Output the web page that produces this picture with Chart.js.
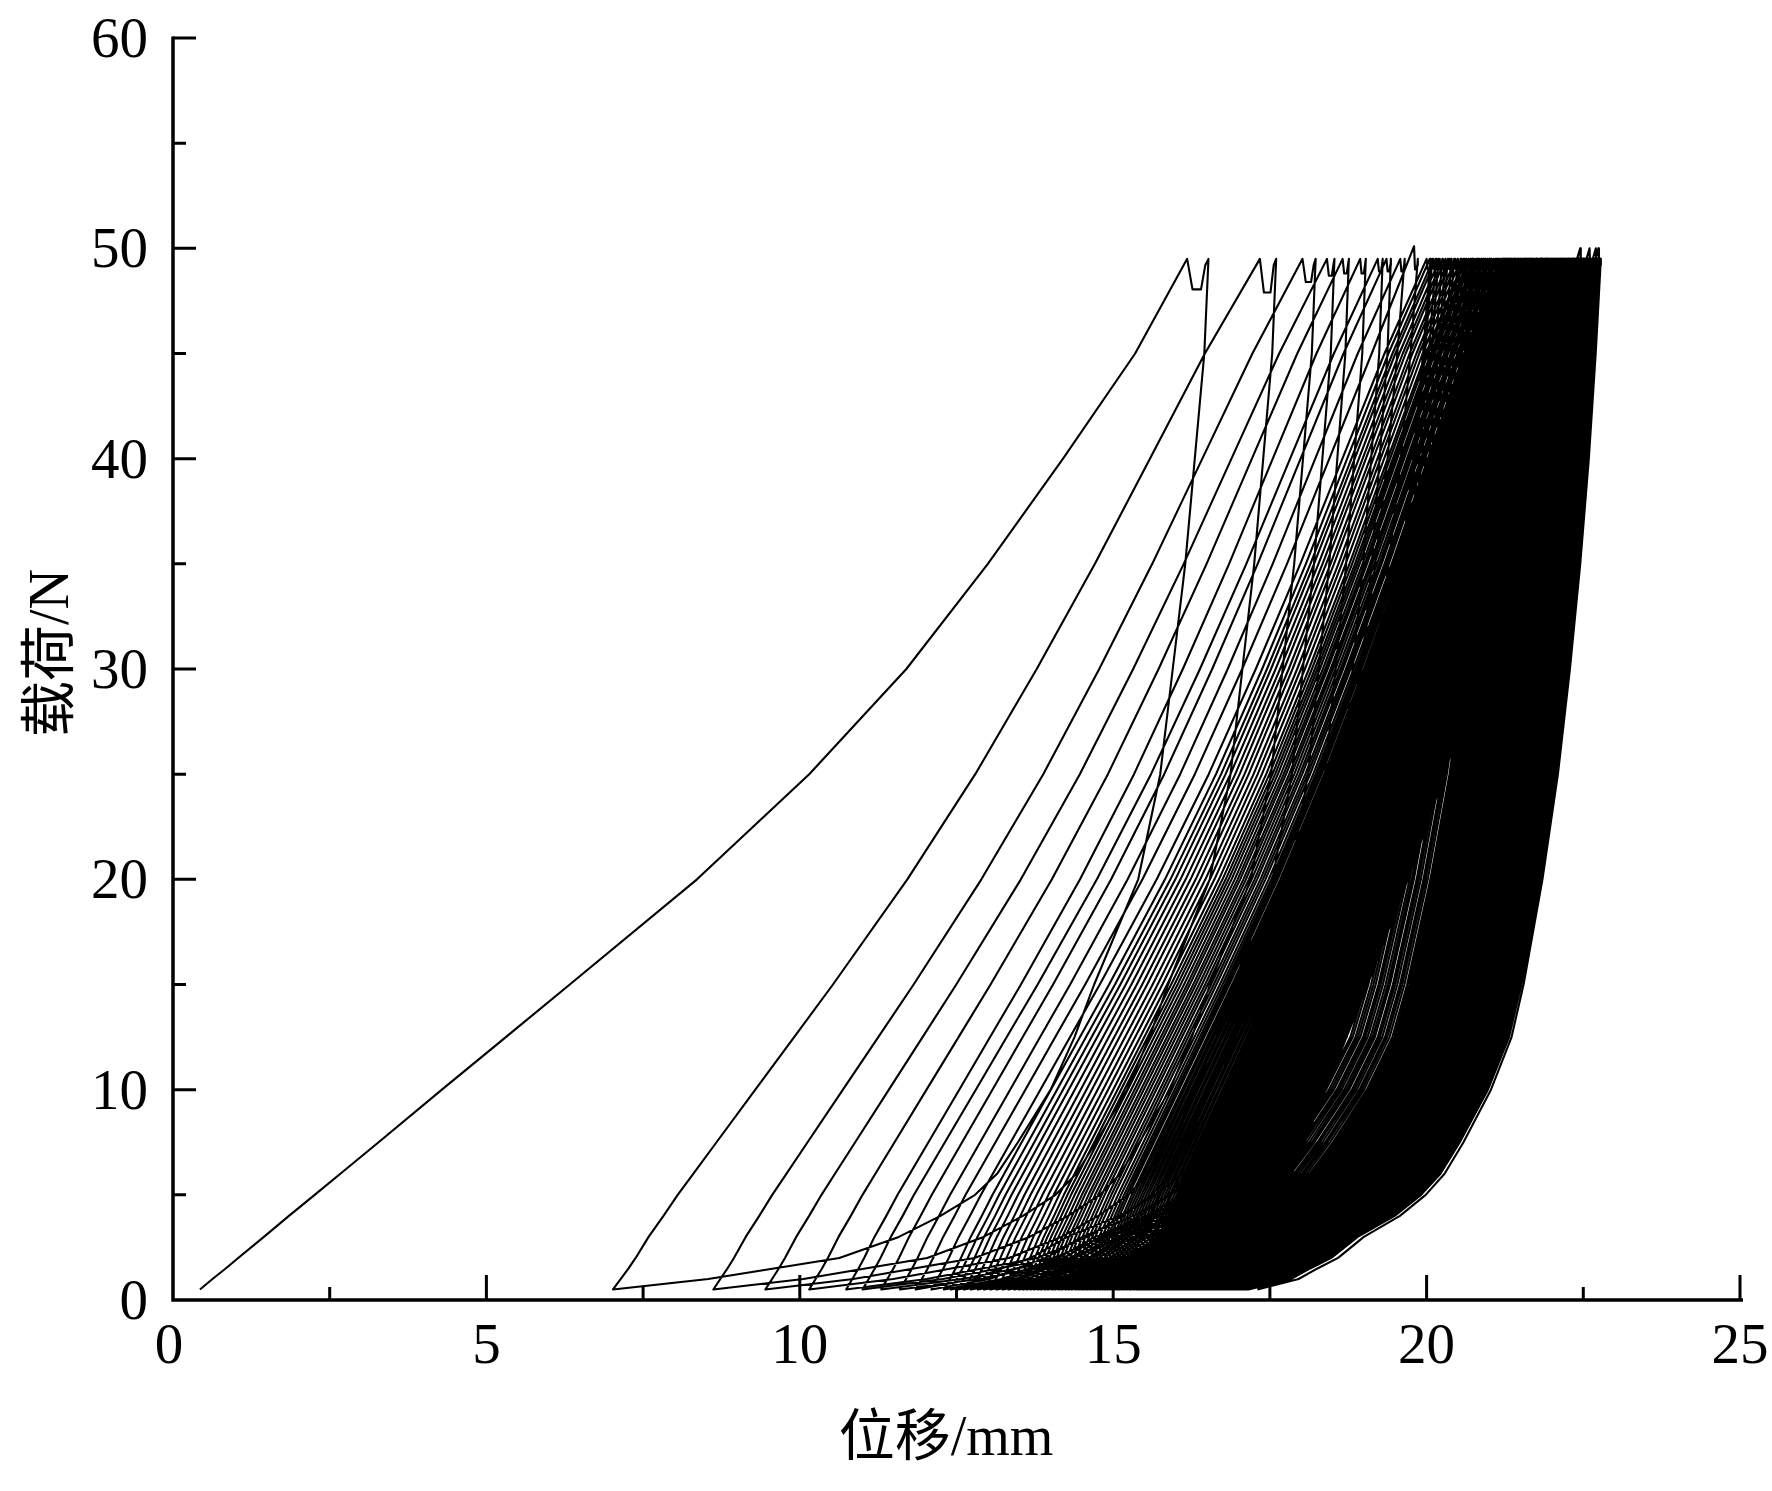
<!DOCTYPE html>
<html>
<head>
<meta charset="utf-8">
<script src="https://cdn.jsdelivr.net/npm/chart.js@4/dist/chart.umd.min.js"></script>
<style>
  html, body { margin: 0; padding: 0; background: #fff; }
  #canvas_div { width: 1772px; height: 1491px; }
</style>
</head>
<body>
<div id="canvas_div"><canvas id="myChart" width="1772" height="1491"></canvas></div>
<script>
const loadLevels = [0.5, 1, 1.5, 2, 3, 4, 5, 6, 7.5, 10, 12.5, 15, 20, 25, 30, 35, 40, 45, 49.5];

// first loading branch, displacement (mm) at each load level
const firstLoadX = [0.43, 0.63, 0.84, 1.04, 1.45, 1.85, 2.26, 2.67, 3.28, 4.29, 5.31, 6.33, 8.36, 10.15, 11.7, 13.0, 14.2, 15.35, 16.18];

// shape of later loading branches: share of the start->peak span at each load level
const loadShape = [0, 0.012, 0.024, 0.035, 0.055, 0.078, 0.1, 0.124, 0.16, 0.22, 0.28, 0.34, 0.455, 0.56, 0.655, 0.745, 0.83, 0.915, 1];

// unloading branches: share of the (next start)->(hold end) span at each load level
const unloadShapeEarly = [0, 0.16, 0.27, 0.38, 0.48, 0.55, 0.608, 0.645, 0.68, 0.735, 0.775, 0.808, 0.882, 0.919, 0.94, 0.961, 0.977, 0.993, 1];
const unloadShapeLate = [0, 0.12, 0.175, 0.235, 0.31, 0.415, 0.49, 0.545, 0.6, 0.68, 0.74, 0.775, 0.83, 0.875, 0.91, 0.94, 0.965, 0.985, 1];

// displacement (mm) where each cycle leaves ~0.5 N
const cycleStart = [
  0.43, 7.02, 8.62, 9.45, 10.15, 10.74, 11.0, 11.3, 11.6, 11.85, 12.1,
  12.3, 12.41, 12.52, 12.62, 12.73, 12.84, 12.94, 13.04, 13.14, 13.24, 13.33, 13.42,
  13.5, 13.56, 13.62, 13.68, 13.74, 13.8, 13.85, 13.91, 13.96, 14.02, 14.07, 14.13, 14.18, 14.24, 14.29, 14.34, 14.4, 14.45,
  14.5, 14.54, 14.58, 14.63, 14.67, 14.71, 14.75, 14.79, 14.83, 14.87, 14.91, 14.95,
  14.99, 15.03, 15.07, 15.1, 15.14, 15.18, 15.22, 15.26, 15.29, 15.33, 15.37, 15.4,
  15.43, 15.46, 15.49, 15.52, 15.55, 15.58, 15.61, 15.64, 15.66, 15.69, 15.72, 15.75, 15.77, 15.8, 15.83,
  15.85, 15.88, 15.91, 15.93, 15.96, 15.98, 16.01, 16.03, 16.06, 16.08, 16.11, 16.13, 16.15, 16.18, 16.2,
  16.22, 16.24, 16.26, 16.28, 16.3, 16.32, 16.34, 16.36, 16.38, 16.4, 16.42, 16.44, 16.46, 16.48, 16.5,
  16.52, 16.54, 16.56, 16.58, 16.6, 16.62, 16.64, 16.66, 16.68, 16.7, 16.72, 16.74, 16.76, 16.78, 16.8,
  16.81, 16.83, 16.84, 16.85, 16.87, 16.88, 16.89, 16.91, 16.92, 16.93, 16.95, 16.96, 16.97, 16.98,
  17.0, 17.01, 17.02, 17.03, 17.05, 17.06, 17.07, 17.08, 17.09, 17.11, 17.12, 17.13, 17.14, 17.16
];

// displacement (mm) where each cycle first reaches the peak load
const cyclePeak = [
  16.18, 17.34, 18.02, 18.41, 18.66, 18.94, 19.22, 19.36, 19.58, 19.8, 20.0,
  20.05, 20.11, 20.15, 20.21, 20.26, 20.3, 20.36, 20.4, 20.46, 20.5, 20.55, 20.6,
  20.63, 20.67, 20.7, 20.73, 20.77, 20.8, 20.83, 20.87, 20.9, 20.93, 20.97, 21.0, 21.03, 21.07, 21.1, 21.13, 21.17, 21.2,
  21.22, 21.25, 21.27, 21.3, 21.32, 21.35, 21.37, 21.4, 21.42, 21.45, 21.47, 21.5,
  21.52, 21.55, 21.57, 21.6, 21.62, 21.65, 21.67, 21.7, 21.72, 21.75, 21.77, 21.8,
  21.82, 21.83, 21.85, 21.87, 21.88, 21.9, 21.92, 21.93, 21.95, 21.97, 21.98, 22.0, 22.02, 22.03, 22.05,
  22.07, 22.08, 22.1, 22.12, 22.13, 22.15, 22.17, 22.18, 22.2, 22.22, 22.23, 22.25, 22.27, 22.28, 22.3,
  22.31, 22.32, 22.33, 22.34, 22.35, 22.36, 22.37, 22.38, 22.39, 22.4, 22.41, 22.42, 22.43, 22.44, 22.45,
  22.46, 22.47, 22.48, 22.49, 22.5, 22.51, 22.52, 22.53, 22.54, 22.55, 22.56, 22.57, 22.58, 22.59, 22.6,
  22.605, 22.61, 22.615, 22.62, 22.625, 22.63, 22.635, 22.64, 22.645, 22.65, 22.655, 22.66, 22.665, 22.67,
  22.675, 22.68, 22.685, 22.69, 22.695, 22.7, 22.705, 22.71, 22.715, 22.72, 22.725, 22.73, 22.735, 22.74
];

// the hold at the top of the first cycles (mm wide, lowest load N, peak load N)
const earlyHoldWidth = [0.34, 0.26, 0.21, 0.12, 0.1, 0.09, 0.08, 0.07, 0.07, 0.06, 0.06];
const earlyHoldDip = [48.05, 47.9, 48.4, 48.7, 48.8, 48.8, 48.9, 48.9, 48.9, 49.0, 49.0];
const earlyPeakLoad = [49.5, 49.5, 49.5, 49.5, 49.5, 49.5, 49.5, 49.5, 49.5, 50.1, 49.5];
// later cycles whose peak overshoots to ~50 N
const spikeCycles = [109, 124, 144, 152];
const spikeLoad = 50.0;
const holdWidth = 0.04;
const holdDip = 49.0;
const peakLoad = 49.5;
const lastUnloadEnd = 17.3;

const xTicks = [0, 5, 10, 15, 20, 25];
const yTicks = [0, 10, 20, 30, 40, 50, 60];

const points = [];
cycleStart.forEach((s, i) => {
  const e = cyclePeak[i];
  let pk = i < earlyPeakLoad.length ? earlyPeakLoad[i] : peakLoad;
  if (spikeCycles.includes(i)) pk = spikeLoad;
  const w = i < earlyHoldWidth.length ? earlyHoldWidth[i] : holdWidth;
  const dip = i < earlyHoldDip.length ? earlyHoldDip[i] : holdDip;
  const n = loadLevels.length;
  // loading
  for (let k = 0; k < n - 1; k++) {
    const x = i === 0 ? firstLoadX[k] : s + loadShape[k] * (e - s);
    points.push({ x: x, y: loadLevels[k] });
  }
  points.push({ x: e, y: pk });
  // hold at peak
  points.push({ x: e + 0.25 * w, y: dip });
  points.push({ x: e + 0.65 * w, y: dip });
  points.push({ x: e + 0.85 * w, y: 49.2 });
  const top = e + w;
  points.push({ x: top, y: peakLoad });
  // unloading down to the next start
  const last = i === cycleStart.length - 1;
  const next = last ? lastUnloadEnd : cycleStart[i + 1];
  const shape = i < 8 ? unloadShapeEarly : unloadShapeLate;
  for (let k = n - 2; k >= (last ? 0 : 1); k--) {
    points.push({ x: next + shape[k] * (top - next), y: loadLevels[k] });
  }
});

const axesPlugin = {
  id: "axes",
  afterDatasetsDraw(chart) {
    const ctx = chart.ctx;
    const x = chart.scales.x, y = chart.scales.y;
    const x0 = x.getPixelForValue(0), y0 = y.getPixelForValue(0);
    ctx.save();
    ctx.strokeStyle = "#000";
    ctx.fillStyle = "#000";
    ctx.lineWidth = 3.5;
    ctx.beginPath();
    ctx.moveTo(x0, y.getPixelForValue(60) - 1.5);
    ctx.lineTo(x0, y0 + 1.75);
    ctx.moveTo(x0 - 1.75, y0);
    ctx.lineTo(x.getPixelForValue(25) + 3, y0);
    ctx.stroke();

    ctx.lineWidth = 3;
    ctx.beginPath();
    for (let k = 1; k <= 10; k++) {
      const px = x.getPixelForValue(k * 2.5);
      ctx.moveTo(px, y0);
      ctx.lineTo(px, y0 - (k % 2 === 0 ? 25 : 13));
    }
    for (let k = 1; k <= 12; k++) {
      const py = y.getPixelForValue(k * 5);
      ctx.moveTo(x0, py);
      ctx.lineTo(x0 + (k % 2 === 0 ? 23 : 13), py);
    }
    ctx.stroke();

    ctx.font = '57px "Liberation Serif", "Times New Roman", serif';
    ctx.textAlign = "center";
    ctx.textBaseline = "alphabetic";
    xTicks.forEach((v) => {
      ctx.fillText(String(v), x.getPixelForValue(v) - (v === 0 ? 4 : 0), y0 + 63);
    });
    ctx.textAlign = "right";
    yTicks.forEach((v) => {
      ctx.fillText(String(v), x0 - 25, y.getPixelForValue(v) + 19);
    });

    ctx.font = '56px "Liberation Serif", "Noto Sans CJK SC", serif';
    ctx.textAlign = "center";
    ctx.fillText("位移/mm", 946, 1455);
    ctx.translate(68, 653);
    ctx.rotate(-Math.PI / 2);
    ctx.fillText("载荷/N", 0, 0);
    ctx.restore();
  }
};

const config = {
  type: "scatter",
  data: {
    datasets: [
      {
        label: "载荷",
        data: points,
        showLine: true,
        borderColor: "#000",
        backgroundColor: "#000",
        borderWidth: 2.1,
        borderJoinStyle: "round",
        pointRadius: 0,
        tension: 0,
        fill: false
      }
    ]
  },
  options: {
    responsive: false,
    animation: false,
    devicePixelRatio: 1,
    events: [],
    layout: { padding: { left: 173, right: 32, top: 38, bottom: 191 } },
    plugins: { legend: { display: false }, tooltip: { enabled: false } },
    scales: {
      x: { type: "linear", min: 0, max: 25, display: false },
      y: { type: "linear", min: 0, max: 60, display: false }
    }
  },
  plugins: [axesPlugin]
};

const myChart = new Chart(document.getElementById("myChart"), config);
</script>
</body>
</html>
